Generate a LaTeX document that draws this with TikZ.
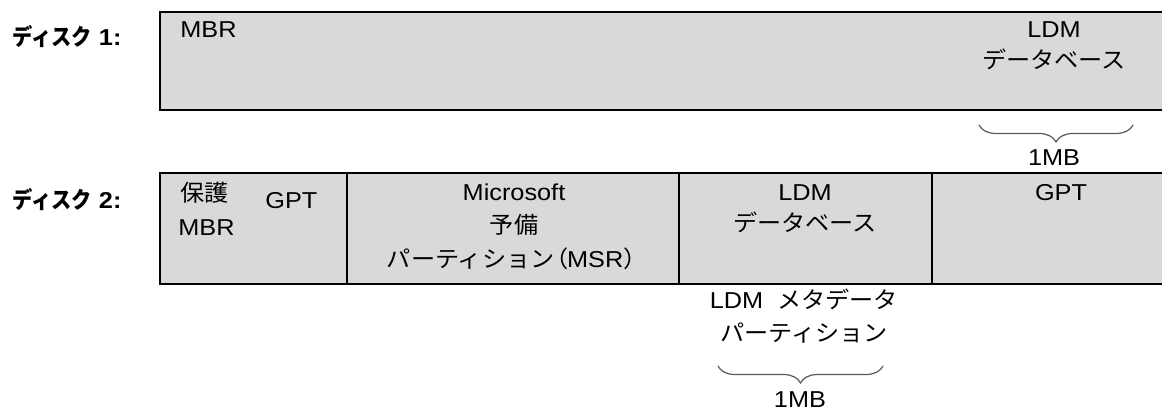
\documentclass[tikz,border=0pt]{standalone}
\usepackage{fontspec}
\setmainfont[FakeStretch=1.1]{Liberation Sans}
\newfontfamily\jafont[FakeStretch=1.05]{Noto Sans CJK JP}
\newfontfamily\jalabelfont[FakeStretch=0.88]{Noto Sans CJK JP}
\newcommand{\ja}[1]{{\jafont #1}}
\usetikzlibrary{decorations.pathreplacing}
\definecolor{diskgray}{RGB}{217,217,217}

\begin{document}
\begin{tikzpicture}[line cap=round,line join=miter,x=0.5pt,y=-0.5pt,
  disk/.style={draw=black,line width=0.9pt,fill=diskgray},
  txt/.style={inner sep=0pt,anchor=base,font=\fontsize{11.5}{13.5}\selectfont},
  disklabel/.style={txt,anchor=base west,font=\fontsize{11.5}{13.5}\selectfont\bfseries},
  sizebrace/.style={draw=black!65,line width=0.6pt,decorate,decoration={brace,mirror,amplitude=8.5pt}}]
\useasboundingbox (0,0) rectangle (1162,409);
\clip (0,0) rectangle (1162,409);
% disk 1
\draw[disk] (160,12) rectangle (1180,110);
\node[disklabel] (lab1) at (12,45) {{\jalabelfont ディスク} 1:};
\node[txt,anchor=base west] (d1mbr) at (180,37) {MBR};
\node[txt] (d1ldm) at (1054,37) {LDM};
\node[txt] (d1db) at (1054,68) {\ja{データベース}};
\coordinate (b1l) at (979,125);
\coordinate (b1r) at (1133,125);
\draw[sizebrace] (b1l) -- (b1r);
\node[txt] (d1mb) at (1054,165) {1MB};
% disk 2
\draw[disk] (160,173) rectangle (1180,284);
\draw[disk] (347,173) -- (347,284);
\draw[disk] (679,173) -- (679,284);
\draw[disk] (932,173) -- (932,284);
\node[disklabel] (lab2) at (12,208) {{\jalabelfont ディスク} 2:};
\node[txt,anchor=base west] (pmbr1) at (180,201) {\ja{保護}};
\node[txt,anchor=base west] (pmbr2) at (178,235) {MBR};
\node[txt,anchor=base west] (gpt1) at (265,208) {GPT};
\node[txt] (msr1) at (514,200) {Microsoft};
\node[txt] (msr2) at (514,233) {\ja{予備}};
\node[txt] (msr3) at (512,267) {\ja{パーティション}\kern-0.45em\ja{（}\kern-0.05em MSR\ja{）}\kern-0.45em};
\node[txt] (ldm1) at (805,200) {LDM};
\node[txt] (ldm2) at (805,231) {\ja{データベース}};
\node[txt] (gpt2) at (1061,200) {GPT};
% LDM metadata partition
\node[txt] (meta1) at (804,308) {LDM\ \ \ja{メタデータ}};
\node[txt] (meta2) at (804,341) {\ja{パーティション}};
\coordinate (b2l) at (718,366);
\coordinate (b2r) at (883,366);
\draw[sizebrace] (b2l) -- (b2r);
\node[txt] (d2mb) at (800,407) {1MB};
\end{tikzpicture}
\end{document}
